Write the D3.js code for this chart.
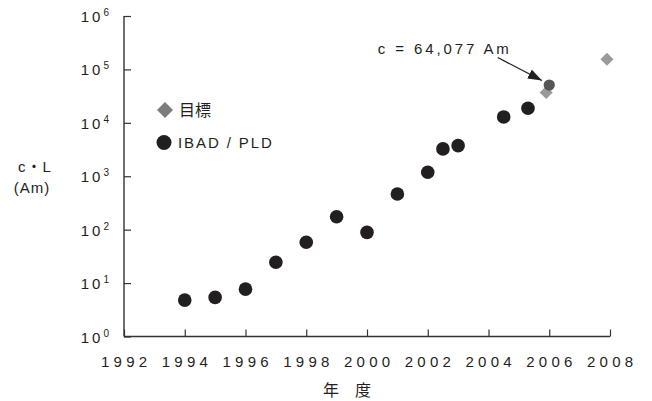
<!DOCTYPE html>
<html>
<head>
<meta charset="utf-8">
<script src="https://cdn.jsdelivr.net/npm/d3@7"></script>
<style>
  html, body { margin: 0; padding: 0; background: #fff; }
  svg { display: block; font-family: "Liberation Sans", Arial, "Noto Sans CJK JP", sans-serif; }
</style>
</head>
<body>
<svg id="chart" width="652" height="401"></svg>
<script>
// data
const ibadYears  = [1994, 1995, 1996, 1997, 1998, 1999, 2000, 2001, 2002, 2002.5, 2003, 2004.5, 2005.3];
const ibadValues = [4.8, 5.4, 7.7, 24.5, 58, 175, 89, 466, 1190, 3250, 3740, 12900, 18800];
const latestYear  = 2006;
const latestValue = 51000;
const targetYears  = [2005.9, 2007.9];
const targetValues = [37000, 155000];
const xTicks = [1992, 1994, 1996, 1998, 2000, 2002, 2004, 2006, 2008];
const yTicks = [1, 10, 100, 1e3, 1e4, 1e5, 1e6];
const annotation = "c = 64,077 Am";

const ink = "#231f20";
const svg = d3.select("#chart");

const x = d3.scaleLinear().domain([1992, 2008]).range([124, 610]);
const y = d3.scaleLog().domain([1, 1e6]).range([336.5, 16]);

// axes (ticks point inward)
const xAxis = svg.append("g")
  .attr("transform", `translate(0,${y(1)})`)
  .call(d3.axisBottom(x).tickValues(xTicks).tickSize(-7).tickFormat(""));
const yAxis = svg.append("g")
  .attr("transform", `translate(${x(1992)},0)`)
  .call(d3.axisLeft(y).tickValues(yTicks).tickSize(-7).tickFormat(""));
[xAxis, yAxis].forEach(a => {
  a.selectAll("path").attr("stroke", "#333").attr("stroke-width", 1.4).attr("d",
    a === xAxis ? `M${x(1992)},0H${x(2008)}` : `M0,${y(1)}V${y(1e6)}`);
  a.selectAll(".tick line").attr("stroke", "#333").attr("stroke-width", 1.2);
});

// x tick labels
svg.append("g").selectAll("text")
  .data(xTicks)
  .join("text")
    .attr("x", d => x(d) + 2.2)
    .attr("y", 367)
    .attr("text-anchor", "middle")
    .attr("fill", ink)
    .style("font-size", "15px")
    .style("letter-spacing", "4.3px")
    .text(d => d);

// y tick labels: 10 with superscript exponent
const yLab = svg.append("g").selectAll("text")
  .data(yTicks)
  .join("text")
    .attr("x", 109)
    .attr("y", d => y(d) + 6)
    .attr("text-anchor", "end")
    .attr("fill", ink)
    .style("font-size", "15px")
    .style("letter-spacing", "3px");
yLab.append("tspan").text("10");
yLab.append("tspan")
  .attr("dy", -6)
  .style("font-size", "10px")
  .style("letter-spacing", "0px")
  .text(d => Math.round(Math.log10(d)));

// axis titles
svg.append("text")
  .attr("x", 35).attr("y", 172)
  .attr("text-anchor", "middle").attr("fill", ink)
  .style("font-size", "15px").style("letter-spacing", "1px")
  .text("c・L");
svg.append("text")
  .attr("x", 32).attr("y", 193)
  .attr("text-anchor", "middle").attr("fill", ink)
  .style("font-size", "15px").style("letter-spacing", "1px")
  .text("(Am)");
svg.append("text")
  .attr("x", 347).attr("y", 396)
  .attr("text-anchor", "middle").attr("fill", ink)
  .style("font-family", "'Noto Sans CJK JP', sans-serif")
  .style("font-size", "16px")
  .text("年　度");

const diamond = (cx, cy, r) => `M${cx},${cy - r}L${cx + r},${cy}L${cx},${cy + r}L${cx - r},${cy}Z`;

// target diamonds
svg.append("g").selectAll("path")
  .data(targetYears.map((yr, i) => ({ yr, v: targetValues[i] })))
  .join("path")
    .attr("d", d => diamond(x(d.yr), y(d.v), 6.5))
    .attr("fill", "#9a9a9a");

// IBAD / PLD points
svg.append("g").selectAll("circle")
  .data(ibadYears.map((yr, i) => ({ yr, v: ibadValues[i] })))
  .join("circle")
    .attr("cx", d => x(d.yr))
    .attr("cy", d => y(d.v))
    .attr("r", 6.8)
    .attr("fill", ink);

// latest result (grey point over the target)
const px = x(latestYear), py = y(latestValue);
svg.append("circle")
  .attr("cx", px).attr("cy", py).attr("r", 5.6)
  .attr("fill", "#565656");

// annotation with arrow
svg.append("defs").append("marker")
  .attr("id", "head")
  .attr("markerUnits", "userSpaceOnUse")
  .attr("viewBox", "0 0 14 10")
  .attr("refX", 14).attr("refY", 5)
  .attr("markerWidth", 14).attr("markerHeight", 10)
  .attr("orient", "auto")
  .append("path")
    .attr("d", "M0,0L14,5L0,10Z")
    .attr("fill", ink);
svg.append("line")
  .attr("x1", px - 51.5).attr("y1", py - 27.5)
  .attr("x2", px - 7.3).attr("y2", py - 4.5)
  .attr("stroke", ink).attr("stroke-width", 1.3)
  .attr("marker-end", "url(#head)");
svg.append("text")
  .attr("x", px - 171.5).attr("y", py - 31)
  .attr("fill", ink)
  .style("font-size", "15px")
  .style("letter-spacing", "2.9px")
  .text(annotation);

// legend
const legend = svg.append("g");
legend.append("path").attr("d", diamond(165, 110, 8)).attr("fill", "#7d7d7d");
legend.append("text")
  .attr("x", 179).attr("y", 116)
  .attr("fill", ink)
  .style("font-family", "'Noto Sans CJK JP', sans-serif")
  .style("font-size", "16px")
  .text("目標");
legend.append("circle").attr("cx", 164).attr("cy", 142.5).attr("r", 7.5).attr("fill", ink);
legend.append("text")
  .attr("x", 178).attr("y", 148)
  .attr("fill", ink)
  .style("font-size", "15px")
  .style("letter-spacing", "1.9px")
  .text("IBAD / PLD");
</script>
</body>
</html>
